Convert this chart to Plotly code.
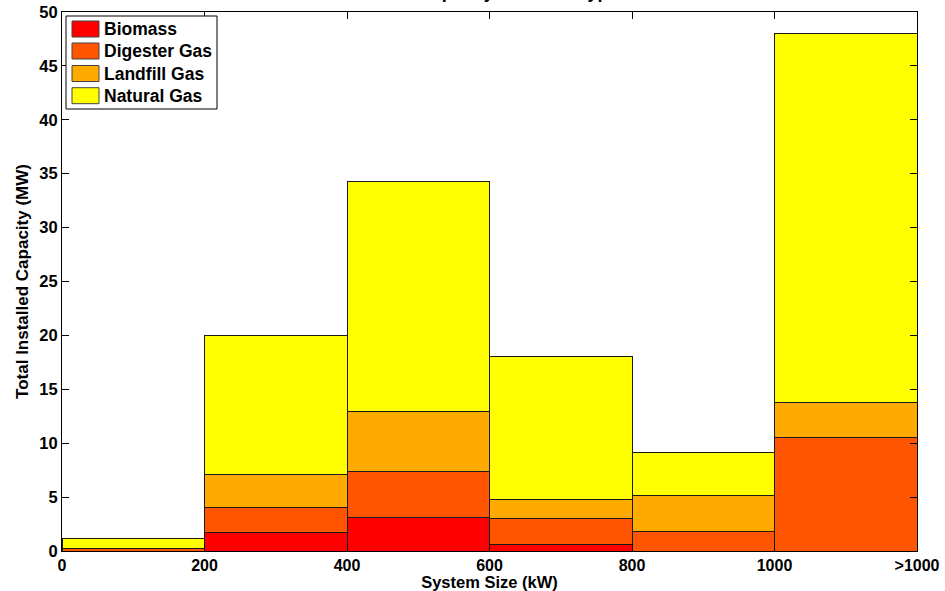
import plotly.graph_objects as go

bin_centers = [100, 300, 500, 700, 900, 1100]
bin_width = 200
tick_vals = [0, 200, 400, 600, 800, 1000, 1200]
tick_text = ["0", "200", "400", "600", "800", "1000", ">1000"]

biomass = [0, 1.70, 3.09, 0.59, 0, 0]
digester_gas = [0.22, 2.31, 4.29, 2.40, 1.79, 10.56]
landfill_gas = [0, 3.09, 5.55, 1.82, 3.33, 3.17]
natural_gas = [0.98, 12.90, 21.39, 13.19, 4.05, 34.27]

series_names = ["Biomass", "Digester Gas", "Landfill Gas", "Natural Gas"]
series_values = [biomass, digester_gas, landfill_gas, natural_gas]
series_colors = ["#FF0000", "#FF5500", "#FFAA00", "#FFFF00"]

FONT = "Liberation Sans, Arial, Helvetica, sans-serif"
W, H = 945, 591
ML, MR, MT, MB = 62, 28, 12, 40
PW, PH = W - ML - MR, H - MT - MB


def px(x):
    return (x - ML) / PW


def py(y):
    return (H - MB - y) / PH


fig = go.Figure()
for name, vals, color in zip(series_names, series_values, series_colors):
    fig.add_trace(go.Bar(
        x=bin_centers, y=vals, width=[bin_width] * len(vals), name=name,
        marker=dict(color=color, line=dict(color="#1a1a1a", width=1)),
        showlegend=False,
    ))

fig.update_layout(
    width=W, height=H,
    barmode="stack",
    plot_bgcolor="white", paper_bgcolor="white",
    margin=dict(l=ML, r=MR, t=MT, b=MB),
    font=dict(family=FONT, size=17, color="black", weight="bold"),
    showlegend=False,
)

fig.update_xaxes(
    range=[0, 1200], tickvals=tick_vals, ticktext=tick_text,
    ticks="inside", ticklen=7, tickcolor="black", automargin=False,
    showline=True, linecolor="black", linewidth=1, mirror="ticks",
    showgrid=False, zeroline=False,
    tickfont=dict(family=FONT, size=16, color="black", weight="bold"),
    title=dict(text="System Size (kW)", standoff=4,
               font=dict(family=FONT, size=16.5, color="black", weight="bold")),
)
fig.update_yaxes(
    range=[0, 50], dtick=5,
    ticks="inside", ticklen=7, tickcolor="black", automargin=False,
    showline=True, linecolor="black", linewidth=1, mirror="ticks",
    showgrid=False, zeroline=False,
    tickfont=dict(family=FONT, size=16.5, color="black", weight="bold"),
    title=dict(text="Total Installed Capacity (MW)", standoff=6,
               font=dict(family=FONT, size=17, color="black", weight="bold")),
)

# Legend box (drawn as shapes + text, to match the reference's swatch sizes)
fig.add_shape(type="rect", xref="paper", yref="paper",
              x0=px(66), x1=px(217), y0=py(109), y1=py(16),
              fillcolor="white", line=dict(color="black", width=1), layer="above")
row_centers = [29, 51, 73.5, 95.7]
for name, color, yc in zip(series_names, series_colors, row_centers):
    fig.add_shape(type="rect", xref="paper", yref="paper",
                  x0=px(72), x1=px(99), y0=py(yc + 8), y1=py(yc - 8),
                  fillcolor=color, line=dict(color="#444444", width=1), layer="above")
    fig.add_annotation(text=name, xref="paper", yref="paper",
                       x=px(102), y=py(yc), xanchor="left", yanchor="middle",
                       showarrow=False,
                       font=dict(family=FONT, size=17.5, color="black", weight="bold"))

# Title: in the reference it sits mostly above the top edge of the image
fig.add_annotation(
    text="Total Installed Capacity and Fuel Type",
    xref="paper", yref="paper", x=px(292), y=1, xanchor="left", yanchor="bottom",
    yshift=8, showarrow=False,
    font=dict(family=FONT, size=18, color="black", weight="bold"),
)

fig.write_html("out.html")
